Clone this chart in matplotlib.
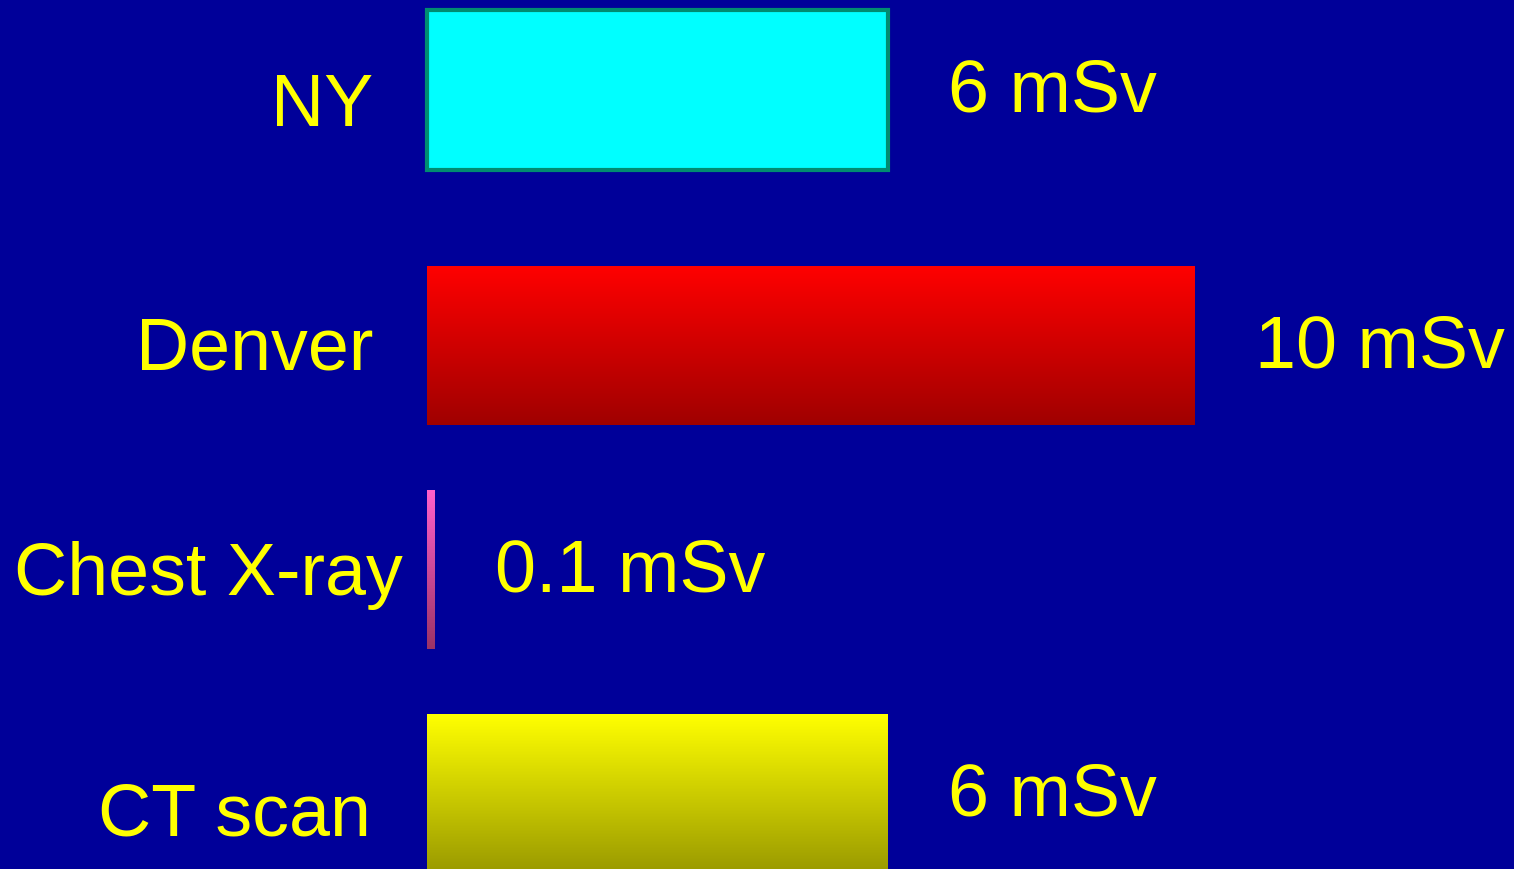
import numpy as np
import matplotlib.pyplot as plt
from matplotlib.colors import to_rgb

# radiation dose per source
categories = ['NY', 'Denver', 'Chest X-ray', 'CT scan']
doses = [6, 10, 0.1, 6]
dose_labels = ['6 mSv', '10 mSv', '0.1 mSv', '6 mSv']

# bar fills: (top colour, bottom colour)
fills = [('#00ffff', '#00ffff'), ('#ff0000', '#a00000'),
         ('#ff60cc', '#993366'), ('#ffff00', '#999900')]

bg = '#000099'
txt = '#ffff00'
plt.rcParams['font.family'] = ['Liberation Sans', 'DejaVu Sans']

W, H = 1514, 869
fig = plt.figure(figsize=(W / 100, H / 100), dpi=100, facecolor=bg)
ax = fig.add_axes([0, 0, 1, 1])
ax.set_facecolor(bg)

# x in mSv, y in pixel rows from the top
x0, px_per_unit = 427, 76.8
ax.set_xlim(-x0 / px_per_unit, (W - x0) / px_per_unit)
ax.set_ylim(H, 0)
ax.axis('off')

y_pos = [90, 345.5, 569.5, 794]
bar_h = 160
name_off = [(-54, -36), (-54, -24.5), (-24, -25.5), (-56, -41)]
value_off = [(60, -21), (60, -22.5), (60, -22.5), (60, -21)]

bars = ax.barh(y_pos, doses, height=bar_h, left=0, color='none', zorder=2)
for i, (bar, (top, bot)) in enumerate(zip(bars, fills)):
    yc, v = y_pos[i], doses[i]
    grad = np.linspace(to_rgb(top), to_rgb(bot), 100)[:, None, :]
    im = ax.imshow(grad, extent=(0, v, yc + bar_h / 2, yc - bar_h / 2),
                   aspect='auto', origin='upper', zorder=1)
    im.set_clip_path(bar)
    if i == 0:
        bar.set_edgecolor('#008c70')
        bar.set_linewidth(3)

    ax.annotate(categories[i], (0, yc), xytext=name_off[i],
                textcoords='offset pixels', ha='right', va='baseline',
                color=txt, fontsize=53)
    ax.annotate(dose_labels[i], (v, yc), xytext=value_off[i],
                textcoords='offset pixels', ha='left', va='baseline',
                color=txt, fontsize=53)

fig.savefig('out.png', dpi=100, facecolor=bg)
